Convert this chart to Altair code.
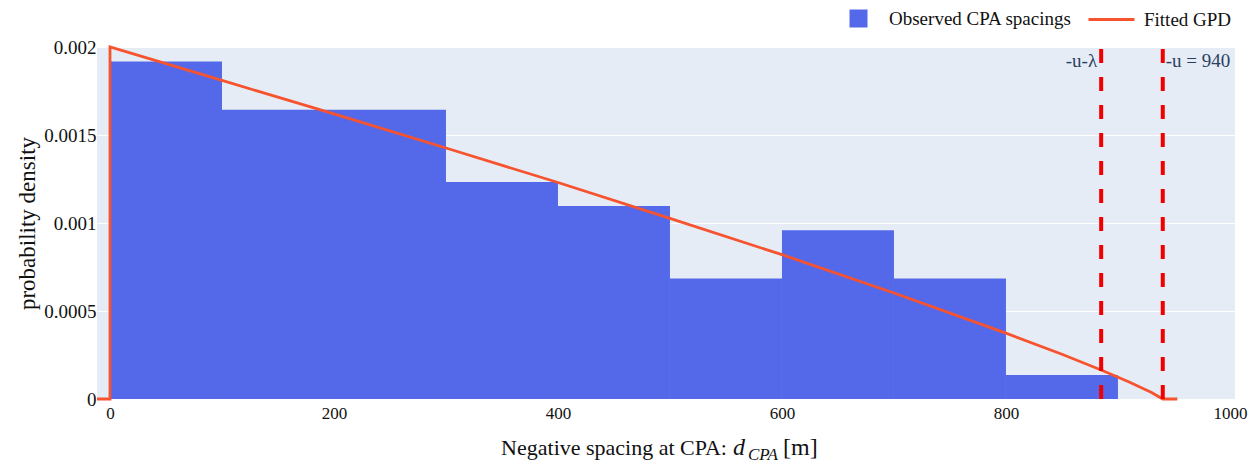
import altair as alt
import pandas as pd

# ---------------- data ----------------
bin_start = [0, 100, 200, 300, 400, 500, 600, 700, 800]
bin_end = [100, 200, 300, 400, 500, 600, 700, 800, 900]
density = [0.001918, 0.001644, 0.001644, 0.001233, 0.001096,
           0.000685, 0.000959, 0.000685, 0.000137]

# fitted GPD density
gpd_x = [-11.6, 0, 0, 100, 200, 300, 400, 500, 600, 700, 800, 850, 885, 910, 930, 940, 953]
gpd_y = [0.0, 0.0, 0.002, 0.00181, 0.00162, 0.001426, 0.00123, 0.001026, 0.00082,
         0.000602, 0.000374, 0.000254, 0.000165, 0.000097, 0.000037, 0.0, 0.0]

vline_x = [885, 940]
vline_label = ["-u-λ", "-u = 940"]

series_names = ["Observed CPA spacings", "Fitted GPD"]
x_ticks = [0, 200, 400, 600, 800, 1000]
y_ticks = [0, 0.0005, 0.001, 0.0015, 0.002]
x_title_parts = ["Negative spacing at CPA:", "d", "CPA", "[m]"]
y_title = "probability density"

# ---------------- style ----------------
SERIF = "Liberation Serif"
BLUE = "#5469E9"
ORANGE = "#F7532E"
RED = "#F20000"
BG = "#E5ECF6"
TXT = "#111111"
ANN = "#2A3F5F"
W, H = 1138, 352

hist = pd.DataFrame({"x0": bin_start, "x1": bin_end, "d": density,
                     "z": [0.0] * len(density),
                     "series": [series_names[0]] * len(density)})
gpd = pd.DataFrame({"x": gpd_x, "y": gpd_y, "i": list(range(len(gpd_x))),
                    "series": [series_names[1]] * len(gpd_x)})
vl = pd.DataFrame({"x": vline_x, "label": vline_label})

xscale = alt.Scale(domain=[-11.6, 1004.5], nice=False, zero=False)
yscale = alt.Scale(domain=[0, 0.002], nice=False)

xaxis = alt.Axis(values=x_ticks, format="d", grid=False, ticks=False, domain=False,
                 labelFont=SERIF, labelFontSize=17, labelColor=TXT, labelPadding=6,
                 title=None)
yaxis = alt.Axis(values=y_ticks, format=".4~f", grid=True, gridColor="white", gridWidth=1,
                 domain=False, ticks=False,
                 labelFont=SERIF, labelFontSize=19, labelColor=TXT, labelPadding=1,
                 title=y_title, titleFont=SERIF, titleFontSize=23, titleFontWeight="normal",
                 titleColor=TXT, titleX=-70, titleY=H / 2, titleAlign="center",
                 titleBaseline="middle", titleAngle=270)

legend_common = dict(title=None, orient="none", labelFont=SERIF, labelFontSize=19,
                     labelColor=TXT, labelLimit=0, padding=0)

bars = alt.Chart(hist).mark_rect().encode(
    x=alt.X("x0:Q", scale=xscale, axis=xaxis),
    x2="x1:Q",
    y=alt.Y("d:Q", scale=yscale, axis=yaxis),
    y2="z:Q",
    fill=alt.Fill("series:N",
                  scale=alt.Scale(domain=[series_names[0]], range=[BLUE]),
                  legend=alt.Legend(legendX=752, legendY=-38, symbolType="square",
                                    symbolSize=324, symbolStrokeWidth=0,
                                    labelOffset=21, **legend_common)),
)

line = alt.Chart(gpd).mark_line(strokeWidth=2.8).encode(
    x=alt.X("x:Q", scale=xscale),
    y=alt.Y("y:Q", scale=yscale),
    order="i:Q",
    stroke=alt.Stroke("series:N",
                      scale=alt.Scale(domain=[series_names[1]], range=[ORANGE]),
                      legend=alt.Legend(legendX=990, legendY=-52, symbolType="stroke",
                                        symbolSize=2116, symbolStrokeWidth=3,
                                        labelOffset=8, **legend_common)),
)

rules = alt.Chart(vl).mark_rule(strokeDash=[14, 14], strokeWidth=4, color=RED).encode(
    x=alt.X("x:Q", scale=xscale),
    y=alt.value(H),
    y2=alt.value(0),
)

lab_left = alt.Chart(vl.iloc[[0]]).mark_text(
    align="right", baseline="alphabetic", dx=-4, font=SERIF, fontSize=19, color=ANN
).encode(x=alt.X("x:Q", scale=xscale), y=alt.value(20), text="label:N")

lab_right = alt.Chart(vl.iloc[[1]]).mark_text(
    align="left", baseline="alphabetic", dx=3, font=SERIF, fontSize=19, color=ANN
).encode(x=alt.X("x:Q", scale=xscale), y=alt.value(20), text="label:N")


def title_part(i, x, y, align, size, style):
    df = pd.DataFrame({"t": [x_title_parts[i]]})
    return alt.Chart(df).mark_text(
        align=align, baseline="alphabetic", font=SERIF, fontSize=size,
        fontStyle=style, color=TXT
    ).encode(x=alt.value(x), y=alt.value(y), text="t:N")


xt0 = title_part(0, 630, 408, "right", 22, "normal")
xt1 = title_part(1, 636, 408, "left", 24, "italic")
xt2 = title_part(2, 651, 413, "left", 17, "italic")
xt3 = title_part(3, 686, 408, "left", 24, "normal")

chart = alt.layer(bars, line, rules, lab_left, lab_right, xt0, xt1, xt2, xt3).resolve_scale(
    fill="independent", stroke="independent"
).properties(
    width=W, height=H,
    autosize=alt.AutoSizeParams(type="none"),
    padding={"left": 89, "top": 39, "right": 17, "bottom": 62},
).configure_view(fill=BG, stroke=None)

chart.save("out.html", embed_options={"renderer": "svg", "actions": False})
